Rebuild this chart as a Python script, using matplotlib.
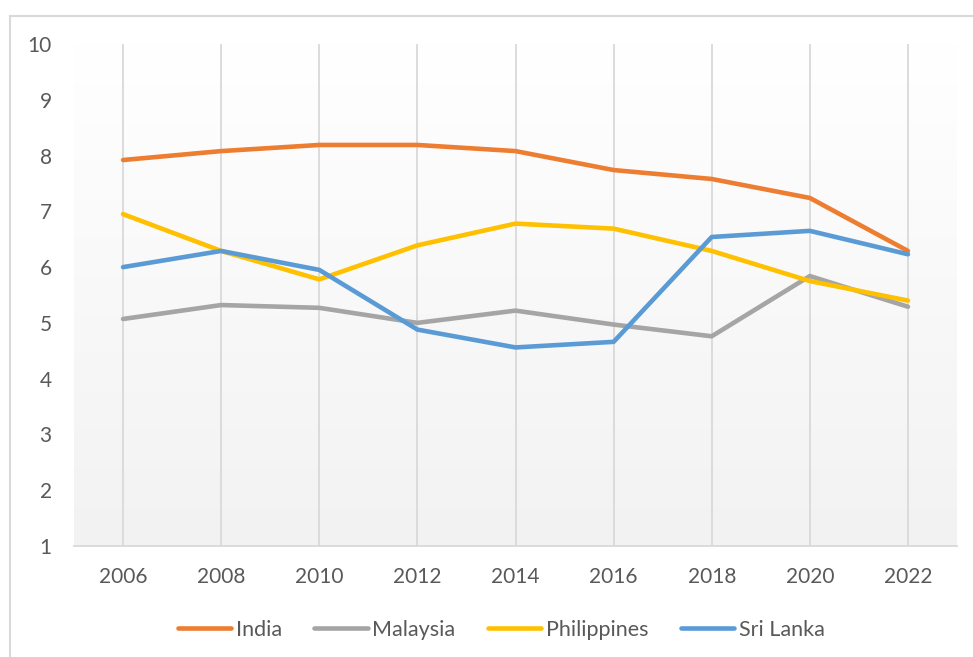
import matplotlib
matplotlib.use("Agg")
import matplotlib.pyplot as plt
import numpy as np
from matplotlib.lines import Line2D
from matplotlib.colors import LinearSegmentedColormap

years = ["2006", "2008", "2010", "2012", "2014", "2016", "2018", "2020", "2022"]
india = [7.92, 8.08, 8.19, 8.19, 8.08, 7.74, 7.58, 7.24, 6.29]
malaysia = [5.07, 5.32, 5.27, 5.00, 5.22, 4.97, 4.76, 5.84, 5.29]
philippines = [6.95, 6.29, 5.78, 6.39, 6.78, 6.69, 6.29, 5.75, 5.40]
sri_lanka = [6.00, 6.29, 5.95, 4.88, 4.56, 4.66, 6.54, 6.65, 6.23]
series_names = ["India", "Malaysia", "Philippines", "Sri Lanka"]
colors = ["#ED7D31", "#A5A5A5", "#FFC000", "#5B9BD5"]
yticks = [1, 2, 3, 4, 5, 6, 7, 8, 9, 10]

plt.rcParams['font.family'] = ['Lato', 'DejaVu Sans']
txt = "#595959"

fig = plt.figure(figsize=(9.73, 6.57), dpi=100)
ax = fig.add_axes([74/973, (657-546)/657, (957-74)/973, (546-44)/657])

x = np.arange(len(years))

# gradient background: white at top to light gray at bottom
grad = np.linspace(0, 1, 256).reshape(-1, 1)
cmap = LinearSegmentedColormap.from_list("g", ["#FFFFFF", "#F2F2F2"])
ax.imshow(grad, aspect="auto", cmap=cmap, extent=(-0.5, len(years) - 0.5, 1, 10),
          origin="upper", zorder=0, interpolation="bicubic")
ax.set_xlim(-0.5, len(years) - 0.5)
ax.set_ylim(1, 10)

for xi in x:
    ax.axvline(xi, color="#D9D9D9", lw=1.3, zorder=1)

for vals, c, n in zip([india, malaysia, philippines, sri_lanka], colors, series_names):
    ax.plot(x, vals, color=c, lw=3.3, label=n, zorder=3, solid_capstyle="round")

for s in ["left", "right", "top"]:
    ax.spines[s].set_visible(False)
ax.spines["bottom"].set_color("#D9D9D9")
ax.spines["bottom"].set_linewidth(1.3)
ax.spines["bottom"].set_zorder(2)

ax.set_xticks(x)
ax.set_xticklabels(years)
ax.set_yticks(yticks)
ax.set_yticklabels([str(v) for v in yticks])
ax.tick_params(axis="both", length=0, labelsize=15, labelcolor=txt)
ax.tick_params(axis="y", pad=16)
ax.tick_params(axis="x", pad=15)

handles = [Line2D([0], [0], color=c, lw=3.3, solid_capstyle="round") for c in colors]
fig.legend(handles, series_names, loc="center", bbox_to_anchor=(0.515, 1 - 630/657),
           ncol=4, frameon=False, fontsize=15.5, labelcolor=txt,
           handlelength=2.5, handletextpad=0.2, columnspacing=1.5)

# outer border (top and left visible)
fig.add_artist(Line2D([10/973, 10/973], [0, 1 - 16/657], color="#D9D9D9", lw=1.5,
                      transform=fig.transFigure))
fig.add_artist(Line2D([10/973, 1], [1 - 16/657, 1 - 16/657], color="#D9D9D9", lw=1.5,
                      transform=fig.transFigure))

fig.savefig("out.png", dpi=100, facecolor="white")
